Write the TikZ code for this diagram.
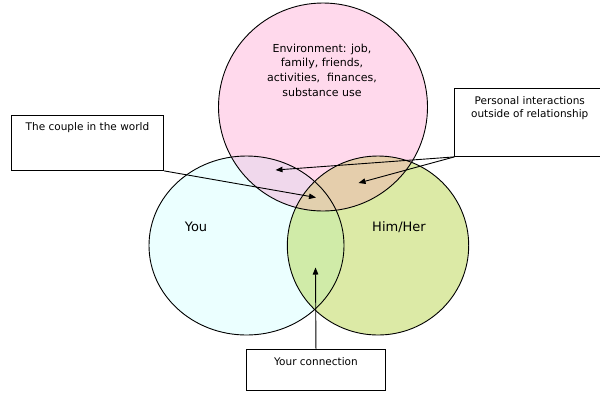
\documentclass[tikz,border=0pt]{standalone}
\usepackage{fontspec}
\setmainfont{DejaVu Sans}
\usetikzlibrary{arrows.meta}
\definecolor{pinkf}{HTML}{FFD9EC}
\definecolor{bluef}{HTML}{EBFFFF}
\definecolor{greenf}{HTML}{DCEAA6}
\definecolor{pbf}{HTML}{F0D8EC}
\definecolor{pgf}{HTML}{E5CEAC}
\definecolor{bgf}{HTML}{D0EBA8}
\definecolor{pbgf}{HTML}{E2D0AE}
\begin{document}
\begin{tikzpicture}[x=1bp,y=-1bp,
  outline/.style={draw=black, line width=0.9bp},
  box/.style={draw=black, line width=0.9bp, fill=white, rectangle, inner sep=0pt, anchor=north west},
  lbl/.style={font=\fontsize{10.5bp}{12.7bp}\selectfont, align=center, inner sep=0pt},
  envtext/.style={font=\fontsize{11bp}{14.7bp}\selectfont, align=center, inner sep=0pt},
  arr/.style={-{Triangle[length=7bp,width=5.5bp]}, line width=0.9bp},
  big/.style={font=\fontsize{13bp}{15bp}\selectfont, inner sep=0pt}]
\useasboundingbox (0,0) rectangle (600,394);
\def\pinkpath{(323,107) ellipse [x radius=104.5, y radius=104]}
\def\bluepath{(246.5,245.5) ellipse [x radius=97.5, y radius=89.5]}
\def\greenpath{(378,245.5) ellipse [x radius=90.7, y radius=89.5]}
% base fills
\fill[bluef] \bluepath;
\fill[greenf] \greenpath;
\fill[pinkf] \pinkpath;
% overlaps
\begin{scope}\clip \bluepath; \fill[bgf] \greenpath; \end{scope}
\begin{scope}\clip \pinkpath; \fill[pbf] \bluepath; \end{scope}
\begin{scope}\clip \pinkpath; \fill[pgf] \greenpath; \end{scope}
\begin{scope}\clip \pinkpath; \clip \bluepath; \fill[pbgf] \greenpath; \end{scope}
% outlines
\draw[outline] \bluepath;
\draw[outline] \greenpath;
\draw[outline] \pinkpath;
% texts
\node[envtext] (env) at (322,70) {Environment: job,\\family, friends,\\activities,\ \ finances,\\substance use};
\node[big] (you) at (196,227) {You};
\node[big] (him) at (399,227) {Him/Her};
% boxes
\node[box, minimum width=152.6bp, minimum height=55bp,
  label={[lbl, anchor=north, yshift=-7bp]north:The couple in the world}] (b1) at (10.7,115) {};
\node[box, minimum width=150bp, minimum height=68.3bp,
  label={[lbl, anchor=north, yshift=-8.5bp]north:Personal interactions\\outside of relationship}] (b2) at (454.3,87.7) {};
\node[box, minimum width=139bp, minimum height=41bp,
  label={[lbl, anchor=north, yshift=-8.5bp]north:Your connection}] (b3) at (246,349) {};
% arrow tips
\coordinate (t1) at (316,197.5);
\coordinate (t2) at (275.5,170);
\coordinate (t3) at (358.5,183);
\coordinate (t4) at (315.5,267.5);
\draw[arr] (b1.south east) -- (t1);
\draw[arr] (b2.south west) -- (t2);
\draw[arr] (b2.south west) -- (t3);
\draw[arr] (b3.north) -- (t4);
\end{tikzpicture}
\end{document}
